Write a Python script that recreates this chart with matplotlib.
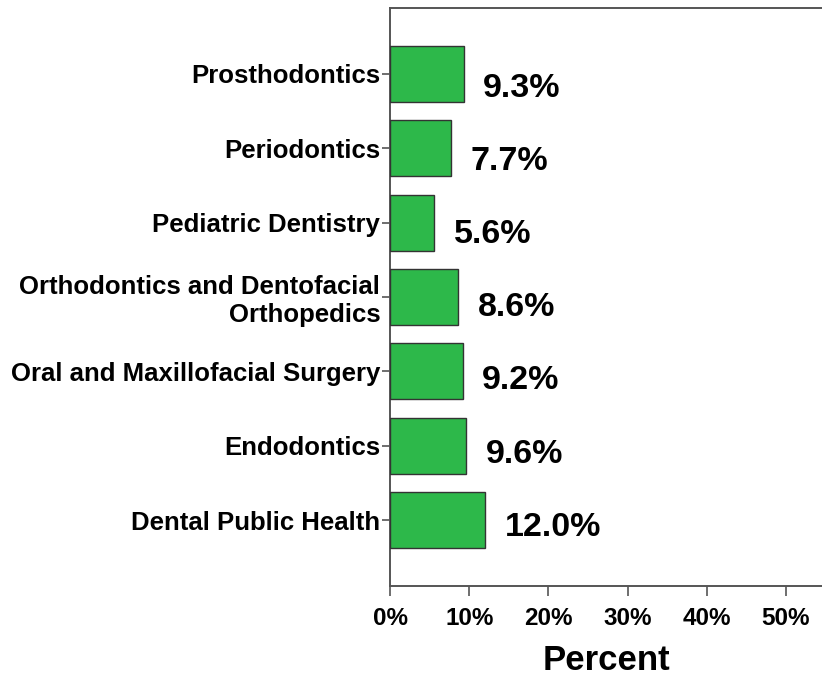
import matplotlib
matplotlib.use("Agg")
import matplotlib.pyplot as plt
from matplotlib.ticker import FuncFormatter

plt.rcParams['font.family'] = ['Liberation Sans', 'DejaVu Sans']

categories = ["Dental Public Health", "Endodontics", "Oral and Maxillofacial Surgery",
              "Orthodontics and Dentofacial\nOrthopedics", "Pediatric Dentistry",
              "Periodontics", "Prosthodontics"]
values = [12.0, 9.6, 9.2, 8.6, 5.6, 7.7, 9.3]
xticks = [0, 10, 20, 30, 40, 50]

fig = plt.figure(figsize=(8.22, 6.8), dpi=100)
ax = fig.add_axes([390/822, 1 - 586/680, 1 - 390/822, (586 - 8)/680])

ypos = list(range(len(categories)))
ax.barh(ypos, values, height=0.75, color='#2db84a', edgecolor='#333333', linewidth=1.0, zorder=3)

for y, v in zip(ypos, values):
    dpx = 4 + 1.15 * y
    ax.annotate(f"{v:.1f}%", xy=(v, y), xytext=(14, -(dpx + 3.3) * 0.72),
                textcoords='offset points',
                ha='left', va='center', fontsize=24.5, fontweight='bold', color='black')

ax.set_ylim(-0.887, 6.887)
ax.set_xlim(0, 54.55)
ax.set_yticks(ypos)
ax.set_yticklabels(categories, fontsize=18.5, fontweight='bold', ha='right')
ax.set_xticks(xticks)
ax.xaxis.set_major_formatter(FuncFormatter(lambda x, p: f"{int(x)}%"))
for lbl in ax.get_xticklabels():
    lbl.set_fontweight('bold')
    lbl.set_fontsize(17.5)

ax.tick_params(axis='x', length=7, width=1.2, color='#555555', pad=8)
ax.tick_params(axis='y', length=6, width=1.2, color='#555555', pad=1)
for s in ['left', 'bottom', 'top']:
    ax.spines[s].set_color('#555555')
    ax.spines[s].set_linewidth(1.4)
ax.spines['right'].set_visible(False)

ax.set_xlabel("Percent", fontsize=25, fontweight='bold', labelpad=10)

fig.savefig("out.png", dpi=100)
